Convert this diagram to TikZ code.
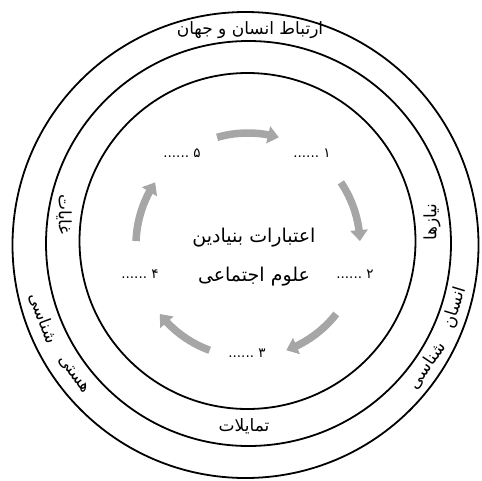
\documentclass[tikz,border=0pt]{standalone}
\usepackage{fontspec}
\newfontfamily\fa[Script=Arabic]{DejaVu Sans}
\TeXXeTstate=1
\usetikzlibrary{arrows.meta,bending}
\newcommand\rtltext[1]{\fa\beginR #1\endR}
\begin{document}
\begin{tikzpicture}[x=1pt,y=1pt,
  ring/.style={draw=black,line width=1.8pt,circle,inner sep=0pt},
  lbl/.style={inner sep=0pt,font=\fa\fontsize{17}{19}\selectfont},
  big/.style={inner sep=0pt,font=\fa\fontsize{19}{21}\selectfont},
  num/.style={inner sep=0pt,font=\fa\fontsize{13.5}{15}\selectfont},
  cyc/.style={draw=gray!70,line width=7.5pt,-{Triangle[width=17pt,length=11pt]}}]
\useasboundingbox (0,0) rectangle (482,-480);
\fill[white] (0,0) rectangle (482,-480);
% rings
\node[ring,minimum size=466pt] (outer) at (245.5,-245) {};
\node[ring,minimum size=405pt] (middle) at (248.5,-243.5) {};
\node[ring,minimum size=336pt] (inner) at (247.5,-241) {};
\coordinate (c0) at (247,-244);
\coordinate (ctr) at (248,-245);
% ring labels
\node[lbl] (toplbl) at (250,-30) {\rtltext{ارتباط انسان و جهان}};
\node[lbl] (botlbl) at (244,-426) {\rtltext{تمایلات}};
\node[lbl,rotate=90] (needs) at (432,-222) {\rtltext{نیازها}};
\node[lbl,rotate=-90] (goals) at (64,-214) {\rtltext{غایات}};
\node[lbl,rotate=-53] (hasti) at ([shift={(-143:217)}]c0) {\rtltext{هستی}};
\node[lbl,rotate=-70] (shenasiL) at ([shift={(-160:217)}]c0) {\rtltext{شناسی}};
\node[lbl,rotate=73] (ensan) at ([shift={(-17:217)}]c0) {\rtltext{انسان}};
\node[lbl,rotate=56] (shenasiR) at ([shift={(-34:217)}]c0) {\rtltext{شناسی}};
% centre
\node[big] (title1) at (254,-238) {\rtltext{اعتبارات بنیادین}};
\node[big] (title2) at (254,-277) {\rtltext{علوم اجتماعی}};
% numbered items
\node[num] (n1) at (312,-153) {\rtltext{۱ ......}};
\node[num] (n2) at (355,-274) {\rtltext{۲ ......}};
\node[num] (n3) at (247,-353) {\rtltext{۳ ......}};
\node[num] (n4) at (140,-274) {\rtltext{۴ ......}};
\node[num] (n5) at (182,-153) {\rtltext{۵ ......}};
% cycle arrows
\foreach \t in {90,18,-54,-126,162}
  \draw[cyc] (ctr) ++(\t+16:112) arc[start angle=\t+16,end angle=\t-16,radius=112];
\end{tikzpicture}
\end{document}
